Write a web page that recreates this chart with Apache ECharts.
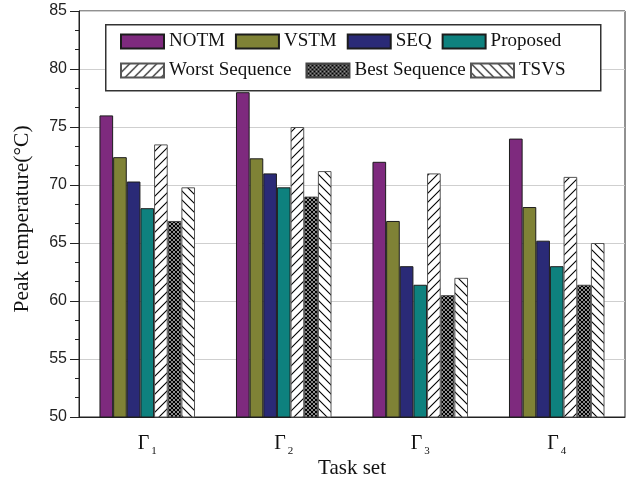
<!DOCTYPE html>
<html><head><meta charset="utf-8">
<script src="https://cdn.jsdelivr.net/npm/echarts@6/dist/echarts.min.js"></script>
<style>html,body{margin:0;padding:0;background:#fff}#c{width:628px;height:479px}</style>
</head><body><div id="c"></div>
<script>
const categories = ['1', '2', '3', '4'];
const seriesNames = ['NOTM', 'VSTM', 'SEQ', 'Proposed', 'Worst Sequence', 'Best Sequence', 'TSVS'];
const NOTM = [76.0, 78.0, 72.0, 74.0];
const VSTM = [72.4, 72.3, 66.9, 68.1];
const SEQ = [70.3, 71.0, 63.0, 65.2];
const Proposed = [68.0, 69.8, 61.4, 63.0];
const WorstSequence = [73.5, 75.0, 71.0, 70.7];
const BestSequence = [66.9, 69.0, 60.5, 61.4];
const TSVS = [69.8, 71.2, 62.0, 65.0];
const yMin = 50, yMax = 85, yStep = 5;

function hatch(kind) {
  const s = kind === 'cross' ? 4 : 9;
  const c = document.createElement('canvas');
  c.width = s; c.height = s;
  const g = c.getContext('2d');
  g.fillStyle = '#fff'; g.fillRect(0, 0, s, s);
  g.strokeStyle = '#000'; g.lineWidth = kind === 'cross' ? 1.3 : 1.1;
  function fwd() { g.beginPath(); g.moveTo(-1, s + 1); g.lineTo(s + 1, -1); g.moveTo(-1, 1); g.lineTo(1, -1); g.moveTo(s - 1, s + 1); g.lineTo(s + 1, s - 1); g.stroke(); }
  function back() { g.beginPath(); g.moveTo(-1, -1); g.lineTo(s + 1, s + 1); g.moveTo(s - 1, -1); g.lineTo(s + 1, 1); g.moveTo(-1, s - 1); g.lineTo(1, s + 1); g.stroke(); }
  if (kind === 'fwd') fwd();
  else if (kind === 'back') back();
  else { fwd(); back(); }
  return { image: c, repeat: 'repeat' };
}

const styles = [
  { color: '#7e2a7e', borderColor: '#1c1c1c' },
  { color: '#7f8236', borderColor: '#1c1c1c' },
  { color: '#2a2a77', borderColor: '#1c1c1c' },
  { color: '#0e817e', borderColor: '#1c1c1c' },
  { color: hatch('fwd'), borderColor: '#555' },
  { color: hatch('cross'), borderColor: '#444' },
  { color: hatch('back'), borderColor: '#555' }
];
const dataSets = [NOTM, VSTM, SEQ, Proposed, WorstSequence, BestSequence, TSVS];

const serif = 'Liberation Serif';
const legendText = { fontFamily: serif, fontSize: 19, color: '#111' };
const legendBase = { padding: 0, itemWidth: 43, itemHeight: 14, icon: 'rect', textStyle: legendText, z: 5, selectedMode: false };

const chart = echarts.init(document.getElementById('c'), null, { renderer: 'canvas' });
chart.setOption({
  animation: false,
  backgroundColor: '#fff',
  grid: { left: 79, right: 3, top: 11, bottom: 62, containLabel: false, outerBoundsMode: 'none', show: true, borderColor: '#222', borderWidth: 1, backgroundColor: 'transparent' },
  graphic: [{
    type: 'rect', z: 1, left: 105, top: 24,
    shape: { width: 495, height: 66 },
    style: { fill: '#fff', stroke: '#333', lineWidth: 1.5 }
  }],
  legend: [
    Object.assign({ data: seriesNames.slice(0, 4), left: 120, top: 32, itemGap: 10 }, legendBase),
    Object.assign({ data: seriesNames.slice(4, 6), left: 120, top: 61, itemGap: 14 }, legendBase),
    Object.assign({ data: seriesNames.slice(6), left: 470, top: 61, itemGap: 10 }, legendBase)
  ],
  xAxis: {
    type: 'category', data: categories,
    name: 'Task set', nameLocation: 'middle', nameGap: 41, nameMoveOverlap: false,
    nameTextStyle: { fontFamily: serif, fontSize: 21, color: '#111' },
    axisLine: { lineStyle: { color: '#222', width: 1 } },
    axisTick: { alignWithLabel: true, length: 7, lineStyle: { color: '#222' } },
    axisLabel: {
      margin: 13,
      formatter: v => '{g|\u0393}{s|' + v + '}',
      rich: {
        g: { fontFamily: serif, fontSize: 20, color: '#111' },
        s: { fontFamily: serif, fontSize: 11, color: '#111', padding: [16, 0, 0, 2] }
      }
    },
    splitLine: { show: false }
  },
  yAxis: {
    type: 'value', min: yMin, max: yMax, interval: yStep,
    name: 'Peak temperature(\u00b0C)', nameLocation: 'middle', nameGap: 46, nameMoveOverlap: false,
    nameTextStyle: { fontFamily: serif, fontSize: 21.5, color: '#111', padding: [0, 10, 0, 0] },
    axisLine: { show: true, lineStyle: { color: '#222', width: 1 } },
    axisTick: { show: true, length: 9, lineStyle: { color: '#222' } },
    minorTick: { show: true, splitNumber: 3, length: 4, lineStyle: { color: '#222' } },
    axisLabel: { fontFamily: 'Liberation Sans', fontSize: 16, color: '#222', margin: 12 },
    splitLine: { show: true, lineStyle: { color: '#cfcfcf', width: 1 } }
  },
  series: seriesNames.map((n, i) => ({
    name: n, type: 'bar', data: dataSets[i],
    barGap: '0%', barCategoryGap: '30%',
    itemStyle: { color: styles[i].color, borderColor: styles[i].borderColor, borderWidth: 1 },
    emphasis: { disabled: true }
  }))
});
</script>
</body></html>
